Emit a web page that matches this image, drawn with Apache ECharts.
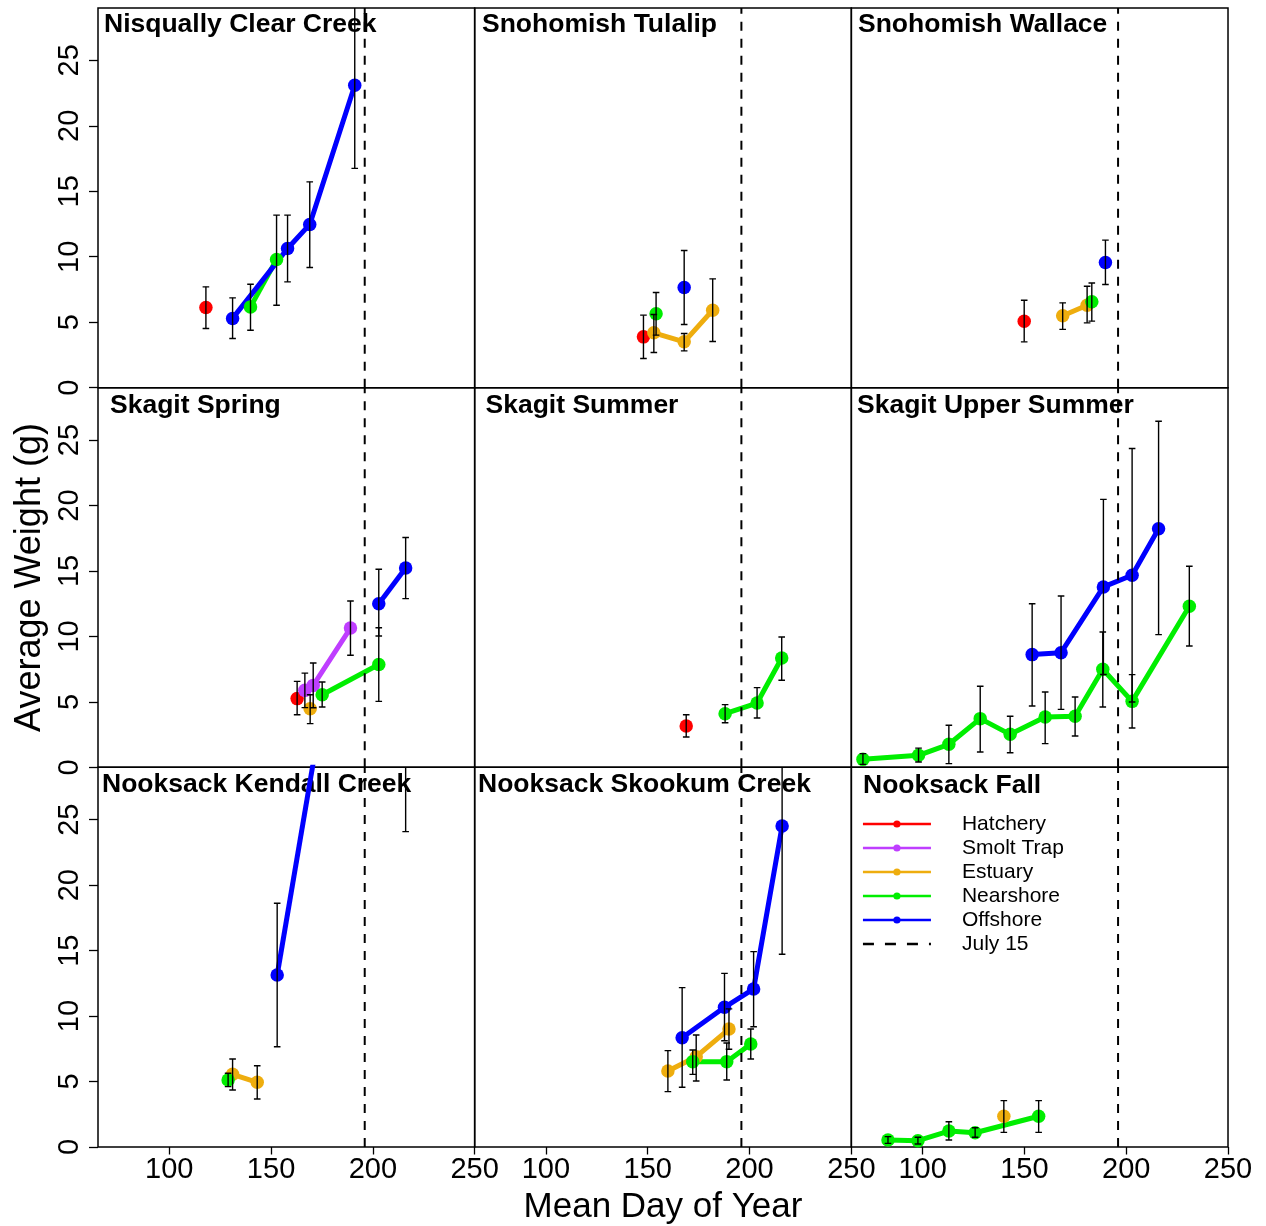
<!DOCTYPE html>
<html>
<head>
<meta charset="utf-8">
<title>Average Weight by Mean Day of Year</title>
<script src="https://cdn.jsdelivr.net/npm/echarts@6/dist/echarts.min.js"></script>
<style>
  html, body { margin: 0; padding: 0; background: #fff; }
  #chart { width: 1266px; height: 1226px; }
</style>
</head>
<body>
<div id="chart"></div>
<script>
// ---- data -------------------------------------------------------------
// Panels, in reading order (row by row).
const panelNames = [
  'Nisqually Clear Creek', 'Snohomish Tulalip', 'Snohomish Wallace',
  'Skagit Spring', 'Skagit Summer', 'Skagit Upper Summer',
  'Nooksack Kendall Creek', 'Nooksack Skookum Creek', 'Nooksack Fall'
];

// Each row: [panel, mean day of year, average weight (g), lower bar, upper bar]
const hatchery = [
  [0, 118.0, 6.13, 4.52, 7.70],
  [1, 147.9, 3.88, 2.23, 5.54],
  [2, 149.9, 5.08, 3.50, 6.68],
  [3, 162.8, 5.25, 4.02, 6.57],
  [4, 168.9, 3.16, 2.32, 4.02]
];
const smoltTrap = [
  [3, 166.6, 5.88, 4.56, 7.20],
  [3, 170.7, 6.26, 4.55, 7.97],
  [3, 189.0, 10.64, 8.56, 12.70]
];
const estuary = [
  [1, 153.0, 4.19, 2.69, 5.59],
  [1, 167.9, 3.50, 2.81, 4.14],
  [1, 181.9, 5.92, 3.53, 8.31],
  [2, 168.8, 5.49, 4.45, 6.48],
  [2, 180.8, 6.30, 4.95, 7.75],
  [3, 169.2, 4.48, 3.34, 5.55],
  [6, 131.1, 5.55, 4.35, 6.72],
  [6, 143.2, 4.94, 3.67, 6.21],
  [7, 159.9, 5.81, 4.23, 7.36],
  [7, 173.8, 6.90, 5.04, 8.56],
  [7, 189.9, 9.01, 7.47, 10.55],
  [8, 139.9, 2.35, 1.12, 3.54]
];
const nearshore = [
  [0, 139.9, 6.17, 4.39, 7.90],
  [0, 152.7, 9.79, 6.30, 13.18],
  [1, 154.1, 5.64, 4.01, 7.27],
  [2, 183.1, 6.56, 5.08, 8.00],
  [3, 175.1, 5.55, 4.61, 6.52],
  [3, 202.9, 7.85, 5.04, 10.66],
  [4, 188.0, 4.10, 3.41, 4.79],
  [4, 203.7, 4.91, 3.77, 6.09],
  [4, 215.8, 8.35, 6.65, 9.95],
  [5, 70.7, 0.61, 0.23, 1.05],
  [5, 98.0, 0.92, 0.41, 1.47],
  [5, 112.9, 1.76, 0.28, 3.21],
  [5, 128.3, 3.72, 1.17, 6.19],
  [5, 143.0, 2.52, 1.12, 3.90],
  [5, 160.2, 3.84, 1.81, 5.75],
  [5, 174.9, 3.90, 2.39, 5.37],
  [5, 188.5, 7.49, 4.61, 10.34],
  [5, 202.9, 5.04, 3.00, 7.08],
  [5, 231.0, 12.30, 9.27, 15.36],
  [6, 128.9, 5.12, 4.61, 5.63],
  [7, 172.1, 6.52, 5.55, 7.41],
  [7, 188.8, 6.52, 5.12, 7.94],
  [7, 200.6, 7.87, 6.72, 9.01],
  [8, 83.0, 0.53, 0.28, 0.79],
  [8, 97.7, 0.48, 0.23, 0.74],
  [8, 112.9, 1.22, 0.53, 1.93],
  [8, 125.8, 1.09, 0.74, 1.47],
  [8, 157.0, 2.35, 1.12, 3.54]
];
const offshore = [
  [0, 131.1, 5.29, 3.76, 6.86],
  [0, 158.1, 10.63, 8.08, 13.18],
  [0, 169.0, 12.47, 9.18, 15.72],
  [0, 191.1, 23.10, 16.75, 29.45],
  [1, 167.9, 7.65, 4.83, 10.48],
  [2, 189.8, 9.56, 7.88, 11.27],
  [3, 202.9, 12.50, 10.03, 15.13],
  [3, 216.1, 15.23, 12.89, 17.55],
  [5, 153.8, 8.61, 4.68, 12.50],
  [5, 168.0, 8.76, 4.43, 13.09],
  [5, 188.8, 13.78, 7.09, 20.47],
  [5, 202.9, 14.67, 4.99, 24.35],
  [5, 215.9, 18.23, 10.14, 26.43],
  [6, 153.0, 13.14, 7.66, 18.62],
  [6, 216.1, 70.90, 24.09, 117.70],
  [7, 166.9, 8.35, 4.56, 12.17],
  [7, 187.7, 10.67, 8.12, 13.26],
  [7, 202.0, 12.07, 9.19, 14.92],
  [7, 216.0, 24.52, 14.72, 34.32]
];

const july15 = 196;                 // day of year of July 15
const xTicks = [100, 150, 200, 250];
const yTicks = [0, 5, 10, 15, 20, 25];
const dayRange = [65, 250];
const weightRange = [0, 29];

// ---- layout & style ---------------------------------------------------
const FONT = 'Liberation Sans, Arial, Helvetica, sans-serif';
const GRID_LEFT = 98, GRID_TOP = 8, CELL_W = 376.67, CELL_H = 379.67;

const groups = [
  { name: 'Hatchery',   color: '#FF0000', rows: hatchery },
  { name: 'Smolt Trap', color: '#BF3EFF', rows: smoltTrap },
  { name: 'Estuary',    color: '#EEAD0E', rows: estuary },
  { name: 'Nearshore',  color: '#00EE00', rows: nearshore },
  { name: 'Offshore',   color: '#0000FF', rows: offshore }
];

// Panel title anchor (left, top) in pixels
const titleAnchors = [
  [104, 10.8], [482, 10.8], [858, 11.5],
  [110, 392.5], [485.5, 392.5], [857, 392],
  [102, 771], [478, 771], [863, 772]
];

const grids = [], xAxes = [], yAxes = [], series = [], titles = [];

for (let p = 0; p < 9; p++) {
  const r = Math.floor(p / 3), c = p % 3;
  grids.push({
    left: GRID_LEFT + c * CELL_W, top: GRID_TOP + r * CELL_H,
    width: CELL_W, height: CELL_H,
    show: true, borderColor: '#000', borderWidth: 1.5,
    backgroundColor: 'transparent', containLabel: false
  });
  const bottomRow = r === 2, leftCol = c === 0;
  xAxes.push({
    type: 'value', gridIndex: p, min: dayRange[0], max: dayRange[1],
    splitLine: { show: false },
    axisLine: { show: false },
    axisTick: { show: bottomRow, length: 7.5, customValues: xTicks,
                lineStyle: { color: '#000', width: 1.3 } },
    axisLabel: { show: bottomRow, customValues: xTicks, margin: 8.5,
                 fontSize: 29, fontFamily: FONT, color: '#000' },
    name: p === 7 ? 'Mean Day of Year' : '',
    nameLocation: 'middle', nameGap: 43,
    nameTextStyle: { fontSize: 35, fontFamily: FONT, color: '#000' }
  });
  yAxes.push({
    type: 'value', gridIndex: p, min: weightRange[0], max: weightRange[1],
    splitLine: { show: false },
    axisLine: { show: false },
    axisTick: { show: leftCol, length: 9, customValues: yTicks,
                lineStyle: { color: '#000', width: 1.3 } },
    axisLabel: { show: leftCol, customValues: yTicks, rotate: 90, margin: 14,
                 fontSize: 29, fontFamily: FONT, color: '#000' },
    name: p === 3 ? 'Average Weight (g)' : '',
    nameLocation: 'middle', nameGap: 50, nameRotate: 90,
    nameTextStyle: { fontSize: 36, fontFamily: FONT, color: '#000' }
  });
  titles.push({
    text: panelNames[p], left: titleAnchors[p][0], top: titleAnchors[p][1],
    padding: 0, z: 0,
    textStyle: { fontSize: 26.5, fontWeight: 'bold', fontFamily: FONT, color: '#000' }
  });

  // group lines with point markers
  const bars = [];
  groups.forEach(g => {
    const pts = g.rows.filter(row => row[0] === p).sort((a, b) => a[1] - b[1]);
    if (!pts.length) return;
    series.push({
      type: 'line', name: g.name, xAxisIndex: p, yAxisIndex: p,
      data: pts.map(row => [row[1], row[2]]),
      symbol: 'circle', symbolSize: 13.5, showSymbol: true,
      lineStyle: { color: g.color, width: 5 },
      itemStyle: { color: g.color },
      emphasis: { disabled: true }, z: 2, clip: true
    });
    pts.forEach(row => bars.push([row[1], row[3], row[4]]));
  });

  // July 15 reference line
  series.push({
    type: 'line', name: 'July 15', xAxisIndex: p, yAxisIndex: p,
    data: [[july15, weightRange[0]], [july15, weightRange[1]]],
    symbol: 'none',
    lineStyle: { color: '#000', width: 2, type: [9, 8] },
    itemStyle: { color: '#000' },
    emphasis: { disabled: true }, z: 3
  });

  // error bars
  series.push({
    type: 'custom', name: 'error', xAxisIndex: p, yAxisIndex: p,
    data: bars, clip: true, z: 4,
    encode: { x: 0, y: [1, 2] },
    renderItem: function (params, api) {
      const x = api.value(0);
      const lo = api.coord([x, api.value(1)]);
      const hi = api.coord([x, api.value(2)]);
      const hw = 3.3;
      const st = { stroke: '#000', lineWidth: 1.4, fill: null };
      return {
        type: 'group',
        children: [
          { type: 'line', shape: { x1: lo[0], y1: lo[1], x2: hi[0], y2: hi[1] }, style: st },
          { type: 'line', shape: { x1: lo[0] - hw, y1: lo[1], x2: lo[0] + hw, y2: lo[1] }, style: st },
          { type: 'line', shape: { x1: hi[0] - hw, y1: hi[1], x2: hi[0] + hw, y2: hi[1] }, style: st }
        ]
      };
    }
  });
}

const chart = echarts.init(document.getElementById('chart'), null, { renderer: 'canvas' });
chart.setOption({
  animation: false,
  backgroundColor: '#fff',
  title: titles,
  grid: grids,
  xAxis: xAxes,
  yAxis: yAxes,
  legend: {
    data: ['Hatchery', 'Smolt Trap', 'Estuary', 'Nearshore', 'Offshore',
           { name: 'July 15', itemStyle: { opacity: 0 }, lineStyle: { type: [11, 11], width: 2.5 } }],
    orient: 'vertical', left: 861.7, top: 812,
    itemWidth: 68, itemHeight: 9, itemGap: 0, padding: 0,
    selectedMode: false,
    lineStyle: { width: 2.5 },
    textStyle: { fontSize: 21, fontFamily: FONT, color: '#000', lineHeight: 24,
                 padding: [0, 0, 0, 26] }
  },
  series: series
});
</script>
</body>
</html>
